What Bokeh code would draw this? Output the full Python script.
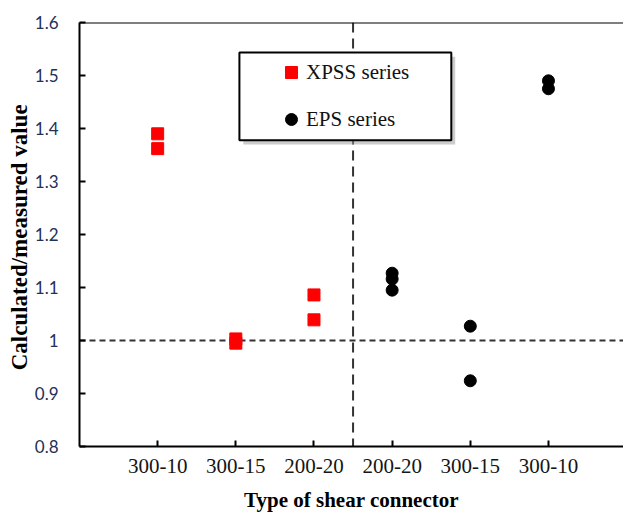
from bokeh.plotting import figure
from bokeh.models import (Range1d, LinearAxis, FixedTicker, CustomJSTickFormatter,
                          Span, BoxAnnotation, Legend, LegendItem)
from bokeh.embed import file_html
from bokeh.resources import INLINE

# ---- data ----
categories = ["300-10", "300-15", "200-20", "200-20", "300-15", "300-10"]
cat_pos = [1, 2, 3, 4, 5, 6]
xpss_x = [1, 1, 2, 2, 3, 3]
xpss_y = [1.39, 1.362, 1.003, 0.995, 1.086, 1.039]
eps_x = [4, 4, 4, 5, 5, 6, 6]
eps_y = [1.127, 1.116, 1.095, 1.027, 0.924, 1.49, 1.475]
y_ticks = [0.8, 0.9, 1.0, 1.1, 1.2, 1.3, 1.4, 1.5, 1.6]
ref_ratio = 1.0
divider = 3.5

p = figure(width=623, height=514, output_backend="svg", toolbar_location=None,
           x_range=Range1d(0, 6.96), y_range=Range1d(0.8, 1.6),
           x_axis_location=None, y_axis_location=None,
           min_border_left=79, min_border_top=22, min_border_bottom=67, min_border_right=0)
p.outline_line_color = None
p.grid.visible = False
p.background_fill_color = "white"
p.border_fill_color = "white"

yax = LinearAxis(ticker=FixedTicker(ticks=y_ticks),
                 formatter=CustomJSTickFormatter(code="return String(Number(tick.toFixed(1)));"),
                 axis_label="Calculated/measured  value")
xax = LinearAxis(ticker=FixedTicker(ticks=cat_pos),
                 major_label_overrides=dict(zip(cat_pos, categories)),
                 axis_label="Type of shear connector")
for ax in (xax, yax):
    ax.axis_line_width = 2
    ax.axis_line_color = "black"
    ax.major_tick_in = 6
    ax.major_tick_out = 0
    ax.major_tick_line_width = 2
    ax.major_tick_line_color = "black"
    ax.minor_tick_line_color = None
    ax.axis_label_text_font = "Liberation Serif"
    ax.axis_label_text_font_style = "bold"
    ax.axis_label_text_color = "black"

yax.major_label_text_font = "Lato"
yax.major_label_text_font_size = "17px"
yax.major_label_text_color = "#22305a"
yax.major_label_standoff = 21
yax.axis_label_text_font_size = "23px"
yax.axis_label_standoff = 0

xax.major_label_text_font = "Liberation Serif"
xax.major_label_text_font_size = "21px"
xax.major_label_text_color = "#151515"
xax.major_label_standoff = 12
xax.axis_label_text_font_size = "21px"
xax.axis_label_standoff = 12

p.add_layout(yax, "left")
p.add_layout(xax, "below")

# reference lines and frame top
p.add_layout(Span(location=ref_ratio, dimension="width", line_dash="6 4",
                  line_color="#333333", line_width=2, level="underlay"))
p.add_layout(Span(location=divider, dimension="height", line_dash="10 6",
                  line_color="#333333", line_width=2, level="underlay"))
p.add_layout(Span(location=1.6, dimension="width", line_color="black", line_width=2))

# legend box with shadow
p.add_layout(BoxAnnotation(left=2.096, right=4.807, bottom=1.370, top=1.5355,
                           fill_color="#9a9a9a", fill_alpha=0.5, line_color=None,
                           level="underlay"))
p.add_layout(BoxAnnotation(left=2.046, right=4.757, bottom=1.378, top=1.5435,
                           fill_color="white", fill_alpha=1.0, line_color="black",
                           line_alpha=1.0, line_width=2, level="underlay"))

r1 = p.scatter(xpss_x, xpss_y, marker="square", size=12,
               fill_color="#FF0000", line_color="#FF0000")
r2 = p.scatter(eps_x, eps_y, marker="circle", size=12,
               fill_color="black", line_color="black")

legend = Legend(items=[LegendItem(label="XPSS series", renderers=[r1]),
                       LegendItem(label="EPS series", renderers=[r2])],
                location=(197, 312), border_line_color=None, background_fill_alpha=0,
                padding=0, margin=0, glyph_width=30, glyph_height=30, spacing=17,
                label_standoff=-13, label_text_font="Liberation Serif",
                label_text_font_size="21px", label_text_color="#111111")
p.add_layout(legend)

open("out.html", "w").write(file_html(p, INLINE))
